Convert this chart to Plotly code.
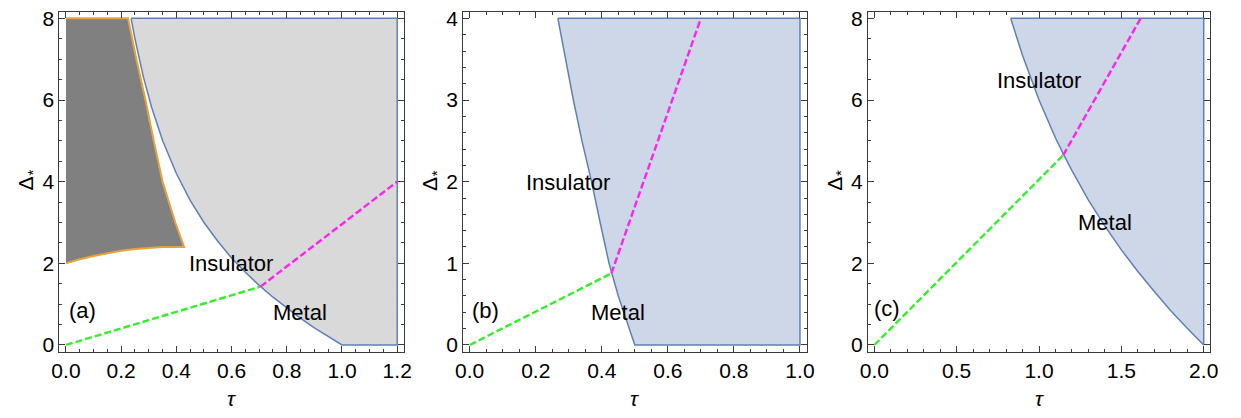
import plotly.graph_objects as go

# ---------------- data ----------------
# Panel (a): dark region (orange outline)
a_dark_right_tau = [0.225, 0.255, 0.288, 0.318, 0.350, 0.396, 0.428]
a_dark_right_delta = [8.0, 7.0, 6.0, 5.0, 4.0, 3.0, 2.4]
a_dark_bottom_tau = [0.35, 0.30, 0.25, 0.20, 0.15, 0.10, 0.05, 0.0]
a_dark_bottom_delta = [2.40, 2.38, 2.35, 2.31, 2.25, 2.18, 2.10, 2.0]

# Panel (a): light region boundary (blue outline)
a_curve_tau = [0.236, 0.25, 0.28, 0.31, 0.35, 0.40, 0.45, 0.50, 0.55, 0.60,
               0.65, 0.70, 0.75, 0.80, 0.85, 0.90, 0.95, 1.00]
a_curve_delta = [8.0, 7.5, 6.58, 5.83, 5.01, 4.2, 3.54, 3.0, 2.54, 2.13,
                 1.78, 1.46, 1.17, 0.9, 0.65, 0.42, 0.2, 0.0]
a_tau_max, a_delta_max = 1.2, 8.0
a_green_tau, a_green_delta = [0.0, 0.705], [0.0, 1.43]
a_mag_tau, a_mag_delta = [0.705, 1.2], [1.43, 4.0]

# Panel (b)
b_curve_tau = [0.267, 0.29, 0.314, 0.34, 0.369, 0.395, 0.422, 0.45, 0.475, 0.50]
b_curve_delta = [4.0, 3.5, 3.0, 2.5, 2.0, 1.5, 1.0, 0.6, 0.3, 0.0]
b_tau_max, b_delta_max = 1.0, 4.0
b_green_tau, b_green_delta = [0.0, 0.429], [0.0, 0.877]
b_mag_tau, b_mag_delta = [0.429, 0.70], [0.877, 4.0]

# Panel (c)
c_curve_tau = [0.828, 0.9, 1.0, 1.1, 1.147, 1.2, 1.3, 1.4, 1.5, 1.6, 1.7, 1.8, 1.9, 2.0]
c_curve_delta = [8.0, 7.09, 6.0, 5.07, 4.68, 4.27, 3.55, 2.91, 2.33, 1.8, 1.31, 0.84, 0.41, 0.0]
c_tau_max, c_delta_max = 2.0, 8.0
c_green_tau, c_green_delta = [0.0, 1.147], [0.0, 4.65]
c_mag_tau, c_mag_delta = [1.147, 1.617], [4.65, 8.0]

labels = {
    "a": [("Insulator", 0.598, 1.99), ("Metal", 0.848, 0.80), ("(a)", 0.06, 0.84)],
    "b": [("Insulator", 0.299, 1.99), ("Metal", 0.449, 0.40), ("(b)", 0.047, 0.42)],
    "c": [("Insulator", 1.002, 6.48), ("Metal", 1.40, 3.0), ("(c)", 0.076, 0.89)],
}
x_title = "τ"
y_title = "Δ"
y_title_mark = "*"

# ---------------- styling ----------------
W, H = 1241, 418
BLUE = "#5E81B5"
ORANGE = "#E8A23A"
DARK = "#808080"
LIGHT = "#D9D9D9"
BLUEFILL = "#CDD7E8"
GREEN = "#33F02A"
MAGENTA = "#FF22EE"
FRAME = "#3A3A3A"
FONT = "Liberation Sans, Arial, sans-serif"

px_x = [(52, 401), (461, 809), (871, 1218)]
py = (7, 355)
ydom = [1 - py[1] / H, 1 - py[0] / H]

fig = go.Figure()

def add_poly(xs, ys, fill, line, lw, ax):
    fig.add_trace(go.Scatter(x=xs, y=ys, mode="lines", fill="toself",
                             fillcolor=fill, line=dict(color=line, width=lw),
                             hoverinfo="skip", showlegend=False,
                             xaxis="x" + ax, yaxis="y" + ax))

def add_dash(xs, ys, color, ax):
    fig.add_trace(go.Scatter(x=xs, y=ys, mode="lines",
                             line=dict(color=color, width=2.4, dash="7px,3px"),
                             hoverinfo="skip", showlegend=False,
                             xaxis="x" + ax, yaxis="y" + ax))

# panel (a)
dx = [0.0] + a_dark_right_tau + a_dark_bottom_tau
dy = [a_delta_max] + a_dark_right_delta + a_dark_bottom_delta
add_poly(dx, dy, DARK, ORANGE, 2, "")
lx = a_curve_tau + [a_tau_max, a_tau_max, a_curve_tau[0]]
ly = a_curve_delta + [0.0, a_delta_max, a_delta_max]
add_poly(lx, ly, LIGHT, BLUE, 1.5, "")
add_dash(a_green_tau, a_green_delta, GREEN, "")
add_dash(a_mag_tau, a_mag_delta, MAGENTA, "")

# panel (b)
bx = b_curve_tau + [b_tau_max, b_tau_max, b_curve_tau[0]]
by = b_curve_delta + [0.0, b_delta_max, b_delta_max]
add_poly(bx, by, BLUEFILL, BLUE, 1.5, "2")
add_dash(b_green_tau, b_green_delta, GREEN, "2")
add_dash(b_mag_tau, b_mag_delta, MAGENTA, "2")

# panel (c)
cx = c_curve_tau + [c_tau_max, c_tau_max, c_curve_tau[0]]
cy = c_curve_delta + [0.0, c_delta_max, c_delta_max]
add_poly(cx, cy, BLUEFILL, BLUE, 1.5, "3")
add_dash(c_green_tau, c_green_delta, GREEN, "3")
add_dash(c_mag_tau, c_mag_delta, MAGENTA, "3")

def axis_common():
    return dict(showgrid=False, zeroline=False, showline=True, linecolor=FRAME,
                linewidth=1, mirror="allticks", ticks="inside", ticklen=6,
                tickwidth=1, tickcolor=FRAME,
                tickfont=dict(family=FONT, size=21, color="black"))

xspecs = [(-0.024, 1.224, 0.2, 0.05), (-0.02, 1.02, 0.2, 0.05), (-0.04, 2.04, 0.5, 0.1)]
yspecs = [(-0.16, 8.16, 2, 0.5), (-0.08, 4.08, 1, 0.2), (-0.16, 8.16, 2, 0.5)]
layout = {}
for i in range(3):
    suf = "" if i == 0 else str(i + 1)
    xr0, xr1, xd, xm = xspecs[i]
    yr0, yr1, yd, ym = yspecs[i]
    xa = axis_common()
    xa.update(domain=[px_x[i][0] / W, px_x[i][1] / W], range=[xr0, xr1],
              tick0=0, dtick=xd, tickformat=".1f", anchor="y" + suf,
              minor=dict(tick0=0, dtick=xm, ticks="inside", ticklen=3,
                         tickcolor=FRAME, tickwidth=1))
    ya = axis_common()
    ya.update(domain=ydom, range=[yr0, yr1], tick0=0, dtick=yd,
              anchor="x" + suf,
              minor=dict(tick0=0, dtick=ym, ticks="inside", ticklen=3,
                         tickcolor=FRAME, tickwidth=1))
    layout["xaxis" + suf] = xa
    layout["yaxis" + suf] = ya

annotations = []
for i, key in enumerate(["a", "b", "c"]):
    suf = "" if i == 0 else str(i + 1)
    for txt, x, y in labels[key]:
        annotations.append(dict(text=txt, x=x, y=y, xref="x" + suf, yref="y" + suf,
                                showarrow=False, xanchor="center", yanchor="middle",
                                font=dict(family=FONT, size=22, color="black")))
    cxp = (px_x[i][0] + px_x[i][1]) / 2
    annotations.append(dict(text=x_title, x=cxp / W, y=1 - 403 / H,
                            xref="paper", yref="paper", showarrow=False,
                            xanchor="center", yanchor="middle",
                            font=dict(family=FONT, size=21, color="black",
                                      style="italic")))
    annotations.append(dict(text=y_title, x=(px_x[i][0] - 34) / W,
                            y=1 - 183 / H, xref="paper", yref="paper",
                            showarrow=False, textangle=-90,
                            xanchor="center", yanchor="middle",
                            font=dict(family=FONT, size=21, color="black")))
    annotations.append(dict(text=y_title_mark, x=(px_x[i][0] - 27) / W,
                            y=1 - 172 / H, xref="paper", yref="paper",
                            showarrow=False, textangle=-90,
                            xanchor="center", yanchor="middle",
                            font=dict(family=FONT, size=15, color="black")))

fig.update_layout(width=W, height=H, margin=dict(l=0, r=0, t=0, b=0),
                  paper_bgcolor="white", plot_bgcolor="white",
                  annotations=annotations, **layout)

fig.write_html("out.html")
